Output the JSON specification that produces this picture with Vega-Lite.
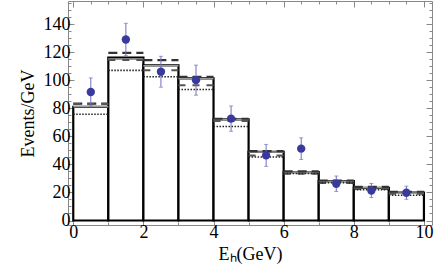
{
  "$schema": "https://vega.github.io/schema/vega-lite/v6.json",
  "autosize": "none",
  "padding": {"left": 68, "top": 1, "right": 4, "bottom": 55},
  "width": 364,
  "height": 224,
  "background": "white",
  "config": {
    "view": {"stroke": "#888888", "strokeWidth": 1},
    "axis": {
      "labelFont": "Liberation Serif",
      "titleFont": "Liberation Serif",
      "labelColor": "black",
      "titleColor": "black",
      "titleFontWeight": "normal",
      "labelFontSize": 18,
      "titleFontSize": 18,
      "domain": false,
      "grid": false,
      "tickColor": "#888888",
      "labelPadding": 4
    }
  },
  "datasets": {
    "bins": [
      {"lo": 0, "hi": 1, "base": 0, "black": 80.9, "gray": 81, "d1": 83.3, "d2": 83, "dot": 75.7},
      {"lo": 1, "hi": 2, "base": 0, "black": 116, "gray": 115, "d1": 119.5, "d2": 114.3, "dot": 107},
      {"lo": 2, "hi": 3, "base": 0, "black": 110.5, "gray": 110.2, "d1": 114.3, "d2": 107, "dot": 102.4},
      {"lo": 3, "hi": 4, "base": 0, "black": 101.2, "gray": 101, "d1": 102.4, "d2": 96.4, "dot": 93.3},
      {"lo": 4, "hi": 5, "base": 0, "black": 72, "gray": 72, "d1": 72.5, "d2": 70.9, "dot": 67},
      {"lo": 5, "hi": 6, "base": 0, "black": 49, "gray": 48.8, "d1": 49.5, "d2": 46.4, "dot": 45.2},
      {"lo": 6, "hi": 7, "base": 0, "black": 34.5, "gray": 34.5, "d1": 35, "d2": 33.3, "dot": 33.5},
      {"lo": 7, "hi": 8, "base": 0, "black": 28, "gray": 28, "d1": 28.5, "d2": 26.7, "dot": 27},
      {"lo": 8, "hi": 9, "base": 0, "black": 23.3, "gray": 23.3, "d1": 24, "d2": 22.5, "dot": 21.9},
      {"lo": 9, "hi": 10, "base": 0, "black": 19.8, "gray": 19.5, "d1": 20.5, "d2": 19, "dot": 18}
    ],
    "points": [
      {"x": 0.5, "y": 91.6, "ylo": 81.6, "yhi": 101.6},
      {"x": 1.5, "y": 129, "ylo": 117.5, "yhi": 140.5},
      {"x": 2.5, "y": 106, "ylo": 95, "yhi": 117},
      {"x": 3.5, "y": 100, "ylo": 89.3, "yhi": 110.7},
      {"x": 4.5, "y": 72.6, "ylo": 63.6, "yhi": 81.6},
      {"x": 5.5, "y": 46.4, "ylo": 38.6, "yhi": 54.2},
      {"x": 6.5, "y": 51.2, "ylo": 43.5, "yhi": 58.9},
      {"x": 7.5, "y": 26.2, "ylo": 20.7, "yhi": 31.7},
      {"x": 8.5, "y": 21.4, "ylo": 16.4, "yhi": 26.4},
      {"x": 9.5, "y": 19.8, "ylo": 15.1, "yhi": 24.5}
    ]
  },
  "resolve": {"axis": {"x": "independent", "y": "independent"}},
  "layer": [
    {
      "data": {"name": "bins"},
      "mark": {"type": "rect", "fill": "white", "stroke": "black", "strokeWidth": 2.2},
      "encoding": {
        "x": {"field": "lo", "type": "quantitative", "scale": {"domain": [-0.15, 10.23], "nice": false, "zero": false},
              "axis": {"values": [0, 0.5, 1, 1.5, 2, 2.5, 3, 3.5, 4, 4.5, 5, 5.5, 6, 6.5, 7, 7.5, 8, 8.5, 9, 9.5, 10],
                       "format": "d",
                       "labelExpr": "datum.value % 2 === 0 ? datum.label : ''",
                       "tickSize": {"condition": {"test": "datum.value % 2 === 0", "value": -6}, "value": -3},
                       "title": "Eₕ(GeV)", "titlePadding": 4}},
        "x2": {"field": "hi"},
        "y": {"field": "base", "type": "quantitative", "scale": {"domain": [-3.2, 156.4], "nice": false, "zero": false},
              "axis": {"values": [0, 5, 10, 15, 20, 25, 30, 35, 40, 45, 50, 55, 60, 65, 70, 75, 80, 85, 90, 95, 100, 105, 110, 115, 120, 125, 130, 135, 140, 145, 150, 155],
                       "format": "d",
                       "labelExpr": "datum.value % 20 === 0 ? datum.label : ''",
                       "tickSize": {"condition": {"test": "datum.value % 20 === 0", "value": -6}, "value": -3},
                       "title": "Events/GeV", "titlePadding": 6}},
        "y2": {"field": "black"}
      }
    },
    {
      "data": {"name": "bins"},
      "mark": {"type": "rule", "stroke": "#9a9a9a", "strokeWidth": 1.6},
      "encoding": {
        "x": {"field": "lo", "type": "quantitative",
              "axis": {"orient": "top", "values": [0, 0.5, 1, 1.5, 2, 2.5, 3, 3.5, 4, 4.5, 5, 5.5, 6, 6.5, 7, 7.5, 8, 8.5, 9, 9.5, 10],
                       "tickSize": {"condition": {"test": "datum.value % 2 === 0", "value": -6}, "value": -3},
                       "labels": false, "title": null}},
        "x2": {"field": "hi"},
        "y": {"field": "gray", "type": "quantitative",
              "axis": {"orient": "right", "values": [0, 5, 10, 15, 20, 25, 30, 35, 40, 45, 50, 55, 60, 65, 70, 75, 80, 85, 90, 95, 100, 105, 110, 115, 120, 125, 130, 135, 140, 145, 150, 155],
                       "tickSize": {"condition": {"test": "datum.value % 20 === 0", "value": -6}, "value": -3},
                       "labels": false, "title": null}}
      }
    },
    {
      "data": {"name": "bins"},
      "mark": {"type": "rule", "stroke": "#333333", "strokeWidth": 2.2, "strokeDash": [9, 5]},
      "encoding": {
        "x": {"field": "lo", "type": "quantitative", "axis": null},
        "x2": {"field": "hi"},
        "y": {"field": "d1", "type": "quantitative", "axis": null}
      }
    },
    {
      "data": {"name": "bins"},
      "mark": {"type": "rule", "stroke": "#555555", "strokeWidth": 2, "strokeDash": [7, 7]},
      "encoding": {
        "x": {"field": "lo", "type": "quantitative", "axis": null},
        "x2": {"field": "hi"},
        "y": {"field": "d2", "type": "quantitative", "axis": null}
      }
    },
    {
      "data": {"name": "bins"},
      "mark": {"type": "rule", "stroke": "#222222", "strokeWidth": 1.6, "strokeDash": [1.5, 1.5]},
      "encoding": {
        "x": {"field": "lo", "type": "quantitative", "axis": null},
        "x2": {"field": "hi"},
        "y": {"field": "dot", "type": "quantitative", "axis": null}
      }
    },
    {
      "data": {"name": "points"},
      "mark": {"type": "rule", "color": "#7070c0", "strokeWidth": 1},
      "encoding": {
        "x": {"field": "x", "type": "quantitative", "axis": null},
        "y": {"field": "ylo", "type": "quantitative", "axis": null},
        "y2": {"field": "yhi"}
      }
    },
    {
      "data": {"name": "points"},
      "mark": {"type": "tick", "color": "#7070c0", "orient": "horizontal", "size": 4, "thickness": 1},
      "encoding": {
        "x": {"field": "x", "type": "quantitative", "axis": null},
        "y": {"field": "ylo", "type": "quantitative", "axis": null}
      }
    },
    {
      "data": {"name": "points"},
      "mark": {"type": "tick", "color": "#7070c0", "orient": "horizontal", "size": 4, "thickness": 1},
      "encoding": {
        "x": {"field": "x", "type": "quantitative", "axis": null},
        "y": {"field": "yhi", "type": "quantitative", "axis": null}
      }
    },
    {
      "data": {"name": "points"},
      "mark": {"type": "circle", "size": 70, "color": "#3a3a9e", "opacity": 1},
      "encoding": {
        "x": {"field": "x", "type": "quantitative", "axis": null},
        "y": {"field": "y", "type": "quantitative", "axis": null}
      }
    }
  ]
}
